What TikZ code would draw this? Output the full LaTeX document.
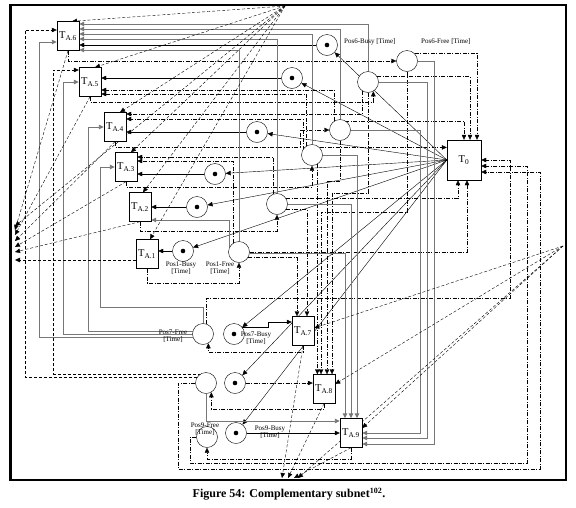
\documentclass[tikz,border=0pt]{standalone}
\usepackage{fontspec}
\setmainfont{Liberation Serif}
\usepackage{tikz}
\usetikzlibrary{arrows.meta,backgrounds}
\definecolor{feedgray}{HTML}{777777}

\tikzset{
  trans/.style={draw, fill=white, minimum width=22pt, minimum height=29pt, inner sep=0pt, font=\fontsize{10.5}{11}\selectfont},
  place/.style={draw, circle, fill=white, minimum size=21pt, inner sep=0pt},
  poslbl/.style={font=\fontsize{7}{7.5}\selectfont, inner sep=0pt, align=center},
  arr/.style={-{Triangle[length=5pt,width=4.5pt]}, line width=0.4pt},
  feed/.style={arr, draw=feedgray, line width=0.9pt},
  ddline/.style={arr, dash pattern=on 4pt off 1.5pt on 1pt off 1.5pt},
  dsh/.style={arr, dash pattern=on 3pt off 2pt}
}

\begin{document}
\begin{tikzpicture}[x=1pt,y=-1pt]
\useasboundingbox (0,0) rectangle (576,507);

% transitions
\node[trans] (ta6) at (68,36) {T\textsubscript{A.6}};
\node[trans] (ta5) at (90,82) {T\textsubscript{A.5}};
\node[trans] (ta4) at (115,127) {T\textsubscript{A.4}};
\node[trans] (ta3) at (126,167) {T\textsubscript{A.3}};
\node[trans] (ta2) at (140,207) {T\textsubscript{A.2}};
\node[trans] (ta1) at (147,254) {T\textsubscript{A.1}};
\node[trans] (ta7) at (303,331) {T\textsubscript{A.7}};
\node[trans] (ta8) at (324,389) {T\textsubscript{A.8}};
\node[trans] (ta9) at (351,433) {T\textsubscript{A.9}};
\node[trans,minimum width=34pt,minimum height=40pt] (tz) at (464,160) {T\textsubscript{0}};

% busy places (marked) and free places
\node[place] (busy6) at (327,45) {};
\node[place] (free6) at (407,61) {};
\node[place] (busy5) at (292,78) {};
\node[place] (free5) at (368,82) {};
\node[place] (busy4) at (257,132) {};
\node[place] (free4) at (340,130) {};
\node[place] (busy3) at (215,174) {};
\node[place] (free3) at (312,155) {};
\node[place] (busy2) at (197,207) {};
\node[place] (free2) at (277,204) {};
\node[place] (busy1) at (183,251) {};
\node[place] (free1) at (239,252) {};
\node[place] (busy7) at (234,334) {};
\node[place] (free7) at (203,334) {};
\node[place] (busy8) at (235,383) {};
\node[place] (free8) at (206,383) {};
\node[place] (busy9) at (236,433) {};
\node[place] (free9) at (207,437) {};
% tokens
\foreach \n in {1,...,9}
  \fill (busy\n) circle (2.3pt);

% meeting points of the dashed arcs
\coordinate (pA) at (285,6);
\coordinate (pL) at (15,244);
\coordinate (pR) at (563,246);
\coordinate (pB) at (290,478);

% labels
\node[poslbl,anchor=west] (lb6b) at (344,42) {Pos6-Busy [Time]};
\node[poslbl,anchor=west] (lb6f) at (421,42) {Pos6-Free [Time]};
\node[poslbl] (lb1b) at (181,268) {Pos1-Busy\\{}[Time]};
\node[poslbl] (lb1f) at (220,268) {Pos1-Free\\{}[Time]};
\node[poslbl] (lb7f) at (173,336) {Pos7-Free\\{}[Time]};
\node[poslbl] (lb7b) at (256,338) {Pos7-Busy\\{}[Time]};
\node[poslbl] (lb9f) at (205,429) {Pos9-Free\\{}[Time]};
\node[poslbl] (lb9b) at (270,432) {Pos9-Busy\\{}[Time]};

\begin{scope}[on background layer]
  % T0 marks the busy places
  \foreach \n in {1,...,9}
    \draw[arr] (tz.west) -- (busy\n);
  % busy places feed their own transition
  \foreach \n in {1,...,6}
    \draw[arr] (busy\n) -- (busy\n -| ta\n.east);
  \draw[arr] (busy7.40) -- ++(26,0) |- ([yshift=9pt]ta7.west);
  \draw[ddline] (busy8) -- (busy8 -| ta8.west);
  \draw[arr] (busy9) -- (busy9 -| ta9.west);
  \draw[feed] (free8.south) |- ([yshift=12pt]ta9.west);

  % transitions give back the free places
  \draw[ddline] (ta1.south) -- ++(0,14) -| (free1.south);
  \draw[ddline] (ta2.south) -- ++(0,9) -| (free2.south);
  \draw[ddline] (ta3.south) -- ++(0,5) -| (free3.south);
  \draw[ddline] (ta4.south) -- ++(0,5) -- ++(185,0) |- (free4.west);
  \draw[ddline] (ta5.south) -- ++(0,5) -| (free5.-60);
  \draw[ddline] (ta6.south) |- (free6.west);
  \draw[ddline] (ta7.south) -- ++(0,6) -| (free7.-60);
  \draw[ddline] (ta8.south) -- ++(0,5) -| (free8.-60);
  \draw[ddline] (ta9.south) -- ++(0,11) -| (free9.south);

  % free places back to T0
  \draw[ddline] (free6.45) -| ([xshift=13pt]tz.north);
  \draw[ddline] (free5.30) -| ([xshift=6pt]tz.north);
  \draw[ddline] (free4.60) -| (tz.north);
  \draw[ddline] (free3.45) -- (free3.45 -| tz.west);
  \draw[ddline] (free2.30) -| ([xshift=-6pt]tz.south);
  \draw[ddline] (free1.east) -| ([xshift=3pt]tz.south);
  \draw[ddline] (free7.70) |- (510,298) |- (tz.east);
  \draw[ddline] (free9.west) -| (190,463) -| (527,166) -- ([yshift=-6pt]tz.east);
  \draw[ddline] (free8.west) -| (178,469) -| (540,172) -- ([yshift=-12pt]tz.east);

  % complementary feeds, upper group
  \draw[feed] (free5.north) |- ([yshift=12pt]ta6.east);
  \draw[feed] (free4.north) |- ([yshift=7pt]ta6.east);
  \draw[feed] (free3.north) |- ([yshift=2pt]ta6.east);
  \draw[feed] (free2.north) |- ([yshift=-3pt]ta6.east);
  \draw[feed] (free1.north) |- ([yshift=-14pt]ta6.east);
  \draw[ddline] (free4.120) |- ([yshift=-8pt]ta5.east);
  \draw[ddline] (free3.120) |- ([yshift=-12pt]ta5.east);
  \draw[ddline] (free5.-120) |- ([yshift=13pt]ta4.east);
  \draw[ddline] (free3.150) |- ([yshift=8pt]ta4.east);
  \draw[ddline] (free2.110) |- ([yshift=10pt]ta3.east);
  \draw[ddline] (free1.120) |- ([yshift=6pt]ta3.east);
  \draw[feed] (free1.150) |- ([yshift=-13pt]ta2.east);

  % Pos7 and Pos8 free places on the left side
  \draw[feed] (free7.200) -| (39,42) -- ([yshift=-6pt]ta6.west);
  \draw[feed] (free7.west) -| (63,82) -- (ta5.west);
  \draw[feed] (free7.165) -| (88,127) -- (ta4.west);
  \draw[feed] (free7.north) |- (100,307) |- (ta3.west);
  \draw[dsh] (free8.150) -| (25,30) -- ([yshift=6pt]ta6.west);
  \draw[dsh] (free8.120) -| (53,70) -- ([yshift=12pt]ta5.west);

  % complementary feeds, lower group
  \draw[ddline] (free1.-30) -| ([xshift=-6pt]ta7.north);
  \draw[ddline] (free2.-30) -| ([xshift=4pt]ta7.north);
  \draw[ddline] (free3.-60) -- (free3.-60 |- ta8.north);
  \draw[ddline] (free6.south) -- ++(0,140) -| ([xshift=-3pt]ta8.north);
  \draw[ddline] (free4.south) -- ++(0,40) -| ([xshift=3pt]ta8.north);
  \draw[ddline] (free5.south) -- ++(0,100) -| ([xshift=8pt]ta8.north);
  \draw[feed] (free3.east) -| ([xshift=6pt]ta9.north);
  \draw[feed] (free2.east) -| (ta9.north);
  \draw[feed] (free1.-10) -| ([xshift=-6pt]ta9.north);
  \draw[feed] (free4.east) -| (420,433) -- (ta9.east);
  \draw[feed] (free5.east) -| (427,438) -- ([yshift=-5pt]ta9.east);
  \draw[feed] (free6.east) -| (434,444) -- ([yshift=-11pt]ta9.east);

  % dashed fans
  \draw[dsh] (pA) -- ([xshift=4pt]ta6.north);
  \draw[dsh] (pA) -- ([xshift=5pt]ta5.north);
  \draw[dsh] (pA) -- ([xshift=5pt]ta4.north);
  \draw[dsh] (pA) -- ([xshift=5pt]ta3.north);
  \draw[dsh] (pA) -- ([xshift=3pt]ta2.north);
  \draw[dsh] (pA) -- ([xshift=3pt]ta1.north);
  \draw[dsh] (pA) -- ([yshift=18pt]pL);
  \draw[dsh] (ta6.south) -- ([yshift=14pt]pL);
  \draw[dsh] (ta5.south) -- ([yshift=9pt]pL);
  \draw[dsh] (ta4.south) -- ([yshift=3pt]pL);
  \draw[dsh] (ta3.south) -- ([yshift=-3pt]pL);
  \draw[dsh] (ta2.south) -- ([yshift=-8pt]pL);
  \draw[dsh] ([yshift=-6pt]ta1.west) -- ([yshift=-16pt]pL);
  \draw[dsh] (pR) -- ([yshift=3pt]ta7.east);
  \draw[dsh] (pR) -- ([yshift=5pt]ta8.east);
  \draw[dsh] (pR) -- ([yshift=5pt]ta9.east);
  \draw[dsh] (pR) -- ([xshift=8pt]pB);
  \draw[dsh] (ta7.south) -- ([xshift=-8pt]pB);
  \draw[dsh] (ta8.south) -- ([xshift=-2pt]pB);
  \draw[dsh] (ta9.south) -- ([xshift=4pt]pB);
\end{scope}

\draw[line width=1.2pt] (10,5) rectangle (566,480);
\draw[line width=3pt] (10,5) -- (10,480);
\node[font=\bfseries\fontsize{12}{14}\selectfont] (cap) at (289,494) {Figure 54: Complementary subnet\textsuperscript{102}.};
\end{tikzpicture}
\end{document}
